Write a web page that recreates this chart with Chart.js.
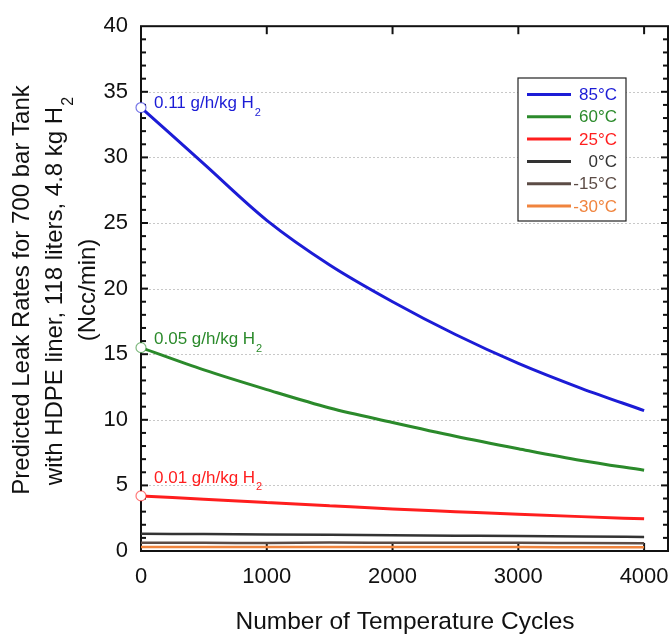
<!DOCTYPE html>
<html>
<head>
<meta charset="utf-8">
<script src="https://cdn.jsdelivr.net/npm/chart.js@4.4.1/dist/chart.umd.min.js"></script>
<style>
  html, body { margin: 0; padding: 0; background: #fff; }
  #wrap { width: 669px; height: 636px; }
</style>
</head>
<body>
<div id="wrap"><canvas id="leakChart" width="669" height="636"></canvas></div>
<script>
// cycles (x) and leak rates (Ncc/min)
const cycles = [0, 500, 1000, 1500, 2000, 2500, 3000, 3500, 4000];
const leak85 = [33.8, 29.5, 25.2, 21.8, 19.0, 16.5, 14.3, 12.4, 10.7];
const leak60 = [15.5, 13.8, 12.3, 10.9, 9.8, 8.75, 7.8, 6.9, 6.15];
const leak25 = [4.2, 3.95, 3.7, 3.45, 3.2, 3.0, 2.8, 2.62, 2.45];
const leak0 = [1.32, 1.29, 1.26, 1.23, 1.2, 1.17, 1.14, 1.1, 1.07];
const leakM15 = [0.62, 0.62, 0.61, 0.64, 0.63, 0.62, 0.62, 0.61, 0.6];
const leakM30 = [0.3, 0.3, 0.3, 0.3, 0.3, 0.3, 0.3, 0.29, 0.28];

const seriesLabels = ['85°C', '60°C', '25°C', '0°C', '-15°C', '-30°C'];
const seriesColors = ['#1c1cd6', '#2b8a2b', '#ff1e1e', '#333333', '#5c4c46', '#f0843e'];
const seriesData = [leak85, leak60, leak25, leak0, leakM15, leakM30];

// labels at the start of the top three curves
const rateNotes = ['0.11 g/h/kg H', '0.05 g/h/kg H', '0.01 g/h/kg H'];

const xTicks = [0, 1000, 2000, 3000, 4000];
const yTitle = ['Predicted Leak Rates for 700 bar Tank', 'with HDPE liner, 118 liters, 4.8 kg H', '(Ncc/min)'];
const xTitle = 'Number of Temperature Cycles';

const FONT = '"Liberation Sans", Arial, sans-serif';

const datasets = seriesData.map((vals, i) => ({
  label: seriesLabels[i],
  data: vals.map((v, j) => ({ x: cycles[j], y: v })),
  borderColor: seriesColors[i],
  borderWidth: i < 3 ? 3 : 2.5,
  cubicInterpolationMode: 'monotone',
  pointRadius: ctx => (i < 3 && ctx.dataIndex === 0) ? 5 : 0,
  pointBackgroundColor: '#fff',
  pointBorderColor: seriesColors[i] + '99',
  pointBorderWidth: 1.2,
  clip: 8
})).reverse();

// dotted grid, frame, ticks and x tick labels (under the curves)
const framePlugin = {
  id: 'frame',
  beforeDatasetsDraw(chart) {
    const { ctx, chartArea: a, scales: { x, y } } = chart;
    ctx.save();
    ctx.strokeStyle = '#c8c8c8';
    ctx.lineWidth = 1;
    ctx.setLineDash([2, 2]);
    for (let v = 5; v < 40; v += 5) {
      const py = Math.round(y.getPixelForValue(v)) + 0.5;
      ctx.beginPath(); ctx.moveTo(a.left, py); ctx.lineTo(a.right, py); ctx.stroke();
    }
    ctx.setLineDash([]);
    ctx.strokeStyle = '#111';
    ctx.lineWidth = 2;
    ctx.strokeRect(a.left, a.top, a.right - a.left, a.bottom - a.top);
    for (let v = 1; v < 40; v++) {
      const py = y.getPixelForValue(v);
      const len = v % 5 === 0 ? 7 : 5;
      ctx.beginPath(); ctx.moveTo(a.left, py); ctx.lineTo(a.left + len, py); ctx.stroke();
      ctx.beginPath(); ctx.moveTo(a.right, py); ctx.lineTo(a.right - len, py); ctx.stroke();
    }
    ctx.fillStyle = '#111';
    ctx.font = '22px ' + FONT;
    ctx.textAlign = 'center';
    ctx.textBaseline = 'middle';
    xTicks.forEach(v => {
      const px = x.getPixelForValue(v);
      ctx.fillText(String(v), px, 577);
      if (v === 0) return;
      ctx.beginPath(); ctx.moveTo(px, a.bottom); ctx.lineTo(px, a.bottom - 8); ctx.stroke();
      ctx.beginPath(); ctx.moveTo(px, a.top); ctx.lineTo(px, a.top + 8); ctx.stroke();
    });
    ctx.restore();
  }
};

// text with a subscript 2 at the end
function subText(ctx, text, px, py, size, subSize) {
  ctx.font = size + 'px ' + FONT;
  ctx.fillText(text, px, py);
  const w = ctx.measureText(text).width;
  ctx.font = subSize + 'px ' + FONT;
  ctx.fillText('2', px + w + 1, py + size * 0.55);
}

const textPlugin = {
  id: 'texts',
  afterDraw(chart) {
    const { ctx, scales: { x, y } } = chart;
    ctx.save();
    // curve notes
    const dy = [-4, -8, -18];
    rateNotes.forEach((t, i) => {
      ctx.fillStyle = seriesColors[i];
      ctx.textBaseline = 'middle';
      ctx.textAlign = 'left';
      subText(ctx, t, x.getPixelForValue(0) + 13, y.getPixelForValue(seriesData[i][0]) + dy[i], 17, 11);
    });

    // legend
    const lx = 518, ly = 78, lw = 108, lh = 143;
    ctx.fillStyle = '#fff';
    ctx.fillRect(lx, ly, lw, lh);
    ctx.strokeStyle = '#222';
    ctx.lineWidth = 1.2;
    ctx.strokeRect(lx, ly, lw, lh);
    seriesLabels.forEach((lab, i) => {
      const ry = ly + 16.5 + i * 22.3;
      ctx.strokeStyle = seriesColors[i];
      ctx.lineWidth = 3;
      ctx.beginPath(); ctx.moveTo(lx + 9, ry); ctx.lineTo(lx + 53, ry); ctx.stroke();
      ctx.fillStyle = seriesColors[i];
      ctx.font = '17px ' + FONT;
      ctx.textAlign = 'right';
      ctx.textBaseline = 'middle';
      ctx.fillText(lab, lx + 99, ry + 1);
    });

    // axis titles
    ctx.fillStyle = '#111';
    ctx.textAlign = 'center';
    ctx.textBaseline = 'middle';
    ctx.font = '24.5px ' + FONT;
    ctx.fillText(xTitle, 405, 622);

    const cols = [22, 55, 88];
    yTitle.forEach((line, i) => {
      ctx.save();
      ctx.translate(cols[i], 290);
      ctx.rotate(-Math.PI / 2);
      ctx.fillStyle = '#111';
      ctx.font = '24px ' + FONT;
      if (i === 1) {
        const w = ctx.measureText(line).width + 12;
        ctx.textAlign = 'left';
        subText(ctx, line, -w / 2, 0, 24, 16);
      } else {
        ctx.textAlign = 'center';
        ctx.fillText(line, 0, 0);
      }
      ctx.restore();
    });
    ctx.restore();
  }
};

new Chart(document.getElementById('leakChart'), {
  type: 'line',
  data: { datasets },
  options: {
    responsive: false,
    animation: false,
    layout: { autoPadding: false, padding: { top: 21, right: 1, left: 0, bottom: 0 } },
    plugins: { legend: { display: false }, tooltip: { enabled: false } },
    scales: {
      x: {
        type: 'linear',
        min: 0,
        max: 4190,
        afterBuildTicks: axis => { axis.ticks = xTicks.map(v => ({ value: v })); },
        afterFit: axis => { axis.height = 85; },
        grid: { display: false, drawTicks: false },
        border: { display: false },
        ticks: { display: false }
      },
      y: {
        min: 0,
        max: 40,
        afterFit: axis => { axis.width = 141; },
        grid: { display: false, drawTicks: false },
        border: { display: false },
        ticks: { stepSize: 5, color: '#111', font: { family: FONT, size: 22 }, padding: 13 }
      }
    }
  },
  plugins: [framePlugin, textPlugin]
});
</script>
</body>
</html>
